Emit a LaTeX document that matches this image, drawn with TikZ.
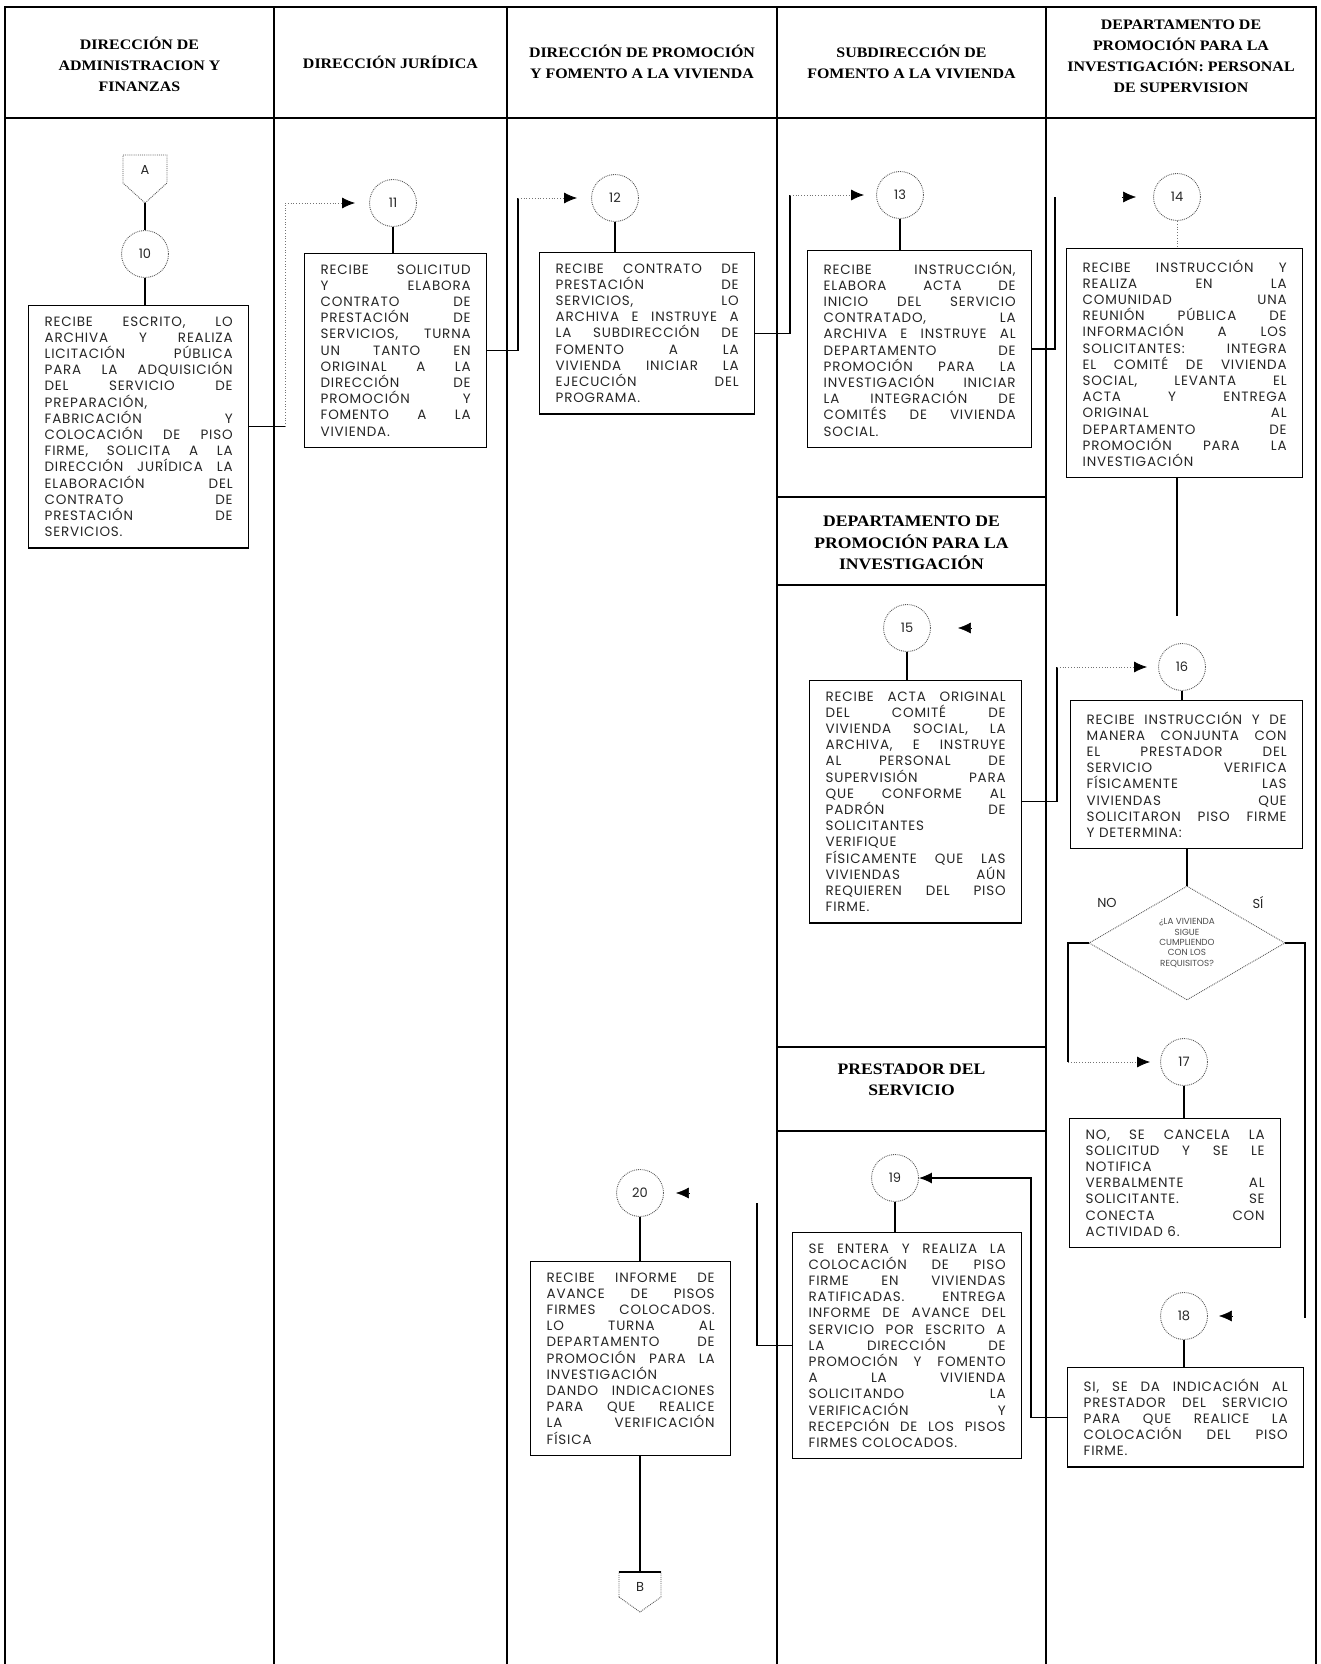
\documentclass[tikz,border=0pt]{standalone}
\usepackage{fontspec}
\usetikzlibrary{arrows.meta,shapes.geometric}
\setmainfont{Liberation Serif}
\newfontfamily\hfont{Liberation Serif}[FakeStretch=1.1]
\newfontfamily\bfont{Poppins}[LetterSpace=6]
\newfontfamily\nfont{Poppins}
\newlength{\tw}
\newcommand{\JLine}[1]{\leavevmode\hbox to \tw{\spaceskip=.28em plus 1fil\relax #1}\\}
\newcommand{\LLine}[1]{#1\\}
\tikzset{
 frame/.style={line width=1.4pt},
 hd/.style={align=center, font=\hfont\bfseries\fontsize{14.5}{21}\selectfont, inner sep=0pt},
 shd/.style={align=center, font=\hfont\bfseries\fontsize{16}{21.5}\selectfont, inner sep=0pt},
 box/.style={draw, line width=1.3pt, anchor=north west, inner xsep=16pt, inner ysep=11pt, text width=#1, execute at begin node={\setlength{\tw}{#1}}, align=left, text=black!85, font=\bfont\fontsize{13.5}{16.2}\selectfont},
 circ/.style={circle, draw=black!65, densely dotted, line width=0.9pt, minimum size=47pt, inner sep=0pt, text=black!85, font=\nfont\fontsize{13}{13}\selectfont},
 ln/.style={line width=1.1pt},
 faint/.style={draw=black!55, dotted, line width=0.8pt},
 arr/.style={-{Latex[length=13pt,width=11pt,color=black]}},
 lbl/.style={font=\nfont\fontsize{13}{13}\selectfont, text=black!85},
 conn/.style={densely dotted, draw=black!65, line width=0.9pt}
}
\begin{document}
\begin{tikzpicture}[x=1pt,y=-1pt]
\useasboundingbox (0,0) rectangle (1320,1664);
% frame
\draw[frame] (5,1664) -- (5,7) -- (1316,7) -- (1316,1664);
\draw[frame] (5,118) -- (1316,118);
\foreach \x in {274,507,777,1046} \draw[frame] (\x,7) -- (\x,1664);
\draw[frame] (777,497) -- (1046,497);
\draw[frame] (777,585) -- (1046,585);
\draw[frame] (777,1047) -- (1046,1047);
\draw[frame] (777,1131) -- (1046,1131);
% headers
\node[hd] (h1) at (139.5,64) {DIRECCIÓN DE\\ADMINISTRACION Y\\FINANZAS};
\node[hd] (h2) at (390.5,62) {DIRECCIÓN JURÍDICA};
\node[hd] (h3) at (642,62) {DIRECCIÓN DE PROMOCIÓN\\Y FOMENTO A LA VIVIENDA};
\node[hd] (h4) at (911.5,62) {SUBDIRECCIÓN DE\\FOMENTO A LA VIVIENDA};
\node[hd] (h5) at (1181,56) {DEPARTAMENTO DE\\PROMOCIÓN PARA LA\\INVESTIGACIÓN: PERSONAL\\DE SUPERVISION};
\node[shd] (s1) at (911.5,543) {DEPARTAMENTO DE\\PROMOCIÓN PARA LA\\INVESTIGACIÓN};
\node[shd] (s2) at (911.5,1080) {PRESTADOR DEL\\SERVICIO};
% off-page connector A
\node[lbl] (A) at (145,170) {A};
\draw[conn] (123,155) -- (167,155) -- (167,183) -- (145,203) -- (123,183) -- cycle;
\coordinate (Atip) at (145,203);
% circles
\node[circ] (c10) at (145,254) {10};
\node[circ] (c11) at (393,203) {11};
\node[circ] (c12) at (615,198) {12};
\node[circ] (c13) at (900,195) {13};
\node[circ] (c14) at (1177,197) {14};
\node[circ] (c15) at (907,628) {15};
\node[circ] (c16) at (1182,667) {16};
\node[circ] (c17) at (1184,1062) {17};
\node[circ] (c18) at (1184,1316) {18};
\node[circ] (c19) at (895,1178) {19};
\node[circ] (c20) at (640,1193) {20};
% boxes
\node[box=188pt] (b10) at (28,305) {%
\JLine{RECIBE ESCRITO, LO}%
\JLine{ARCHIVA Y REALIZA}%
\JLine{LICITACIÓN PÚBLICA}%
\JLine{PARA LA ADQUISICIÓN}%
\JLine{DEL SERVICIO DE}%
\LLine{PREPARACIÓN,}%
\JLine{FABRICACIÓN Y}%
\JLine{COLOCACIÓN DE PISO}%
\JLine{FIRME, SOLICITA A LA}%
\JLine{DIRECCIÓN JURÍDICA LA}%
\JLine{ELABORACIÓN DEL}%
\JLine{CONTRATO DE}%
\JLine{PRESTACIÓN DE}%
SERVICIOS.};
\node[box=150pt] (b11) at (304,253) {%
\JLine{RECIBE SOLICITUD}%
\JLine{Y ELABORA}%
\JLine{CONTRATO DE}%
\JLine{PRESTACIÓN DE}%
\JLine{SERVICIOS, TURNA}%
\JLine{UN TANTO EN}%
\JLine{ORIGINAL A LA}%
\JLine{DIRECCIÓN DE}%
\JLine{PROMOCIÓN Y}%
\JLine{FOMENTO A LA}%
VIVIENDA.};
\node[box=183pt] (b12) at (539,252) {%
\JLine{RECIBE CONTRATO DE}%
\JLine{PRESTACIÓN DE}%
\JLine{SERVICIOS, LO}%
\JLine{ARCHIVA E INSTRUYE A}%
\JLine{LA SUBDIRECCIÓN DE}%
\JLine{FOMENTO A LA}%
\JLine{VIVIENDA INICIAR LA}%
\JLine{EJECUCIÓN DEL}%
PROGRAMA.};
\node[box=192pt] (b13) at (807,250) {%
\JLine{RECIBE INSTRUCCIÓN,}%
\JLine{ELABORA ACTA DE}%
\JLine{INICIO DEL SERVICIO}%
\JLine{CONTRATADO, LA}%
\JLine{ARCHIVA E INSTRUYE AL}%
\JLine{DEPARTAMENTO DE}%
\JLine{PROMOCIÓN PARA LA}%
\JLine{INVESTIGACIÓN INICIAR}%
\JLine{LA INTEGRACIÓN DE}%
\JLine{COMITÉS DE VIVIENDA}%
SOCIAL.};
\node[box=204pt] (b14) at (1066,248) {%
\JLine{RECIBE INSTRUCCIÓN Y}%
\JLine{REALIZA EN LA}%
\JLine{COMUNIDAD UNA}%
\JLine{REUNIÓN PÚBLICA DE}%
\JLine{INFORMACIÓN A LOS}%
\JLine{SOLICITANTES: INTEGRA}%
\JLine{EL COMITÉ DE VIVIENDA}%
\JLine{SOCIAL, LEVANTA EL}%
\JLine{ACTA Y ENTREGA}%
\JLine{ORIGINAL AL}%
\JLine{DEPARTAMENTO DE}%
\JLine{PROMOCIÓN PARA LA}%
INVESTIGACIÓN};
\node[box=180pt] (b15) at (809,680) {%
\JLine{RECIBE ACTA ORIGINAL}%
\JLine{DEL COMITÉ DE}%
\JLine{VIVIENDA SOCIAL, LA}%
\JLine{ARCHIVA, E INSTRUYE}%
\JLine{AL PERSONAL DE}%
\JLine{SUPERVISIÓN PARA}%
\JLine{QUE CONFORME AL}%
\JLine{PADRÓN DE}%
\LLine{SOLICITANTES}%
\LLine{VERIFIQUE}%
\JLine{FÍSICAMENTE QUE LAS}%
\JLine{VIVIENDAS AÚN}%
\JLine{REQUIEREN DEL PISO}%
FIRME.};
\node[box=200pt] (b16) at (1070,700) {%
\JLine{RECIBE INSTRUCCIÓN Y DE}%
\JLine{MANERA CONJUNTA CON}%
\JLine{EL PRESTADOR DEL}%
\JLine{SERVICIO VERIFICA}%
\JLine{FÍSICAMENTE LAS}%
\JLine{VIVIENDAS QUE}%
\JLine{SOLICITARON PISO FIRME}%
Y DETERMINA:};
\node[box=179pt] (b17) at (1069,1118) {%
\JLine{NO, SE CANCELA LA}%
\JLine{SOLICITUD Y SE LE}%
\LLine{NOTIFICA}%
\JLine{VERBALMENTE AL}%
\JLine{SOLICITANTE. SE}%
\JLine{CONECTA CON}%
ACTIVIDAD 6.};
\node[box=204pt] (b18) at (1067,1367) {%
\JLine{SI, SE DA INDICACIÓN AL}%
\JLine{PRESTADOR DEL SERVICIO}%
\JLine{PARA QUE REALICE LA}%
\JLine{COLOCACIÓN DEL PISO}%
FIRME.};
\node[box=197pt] (b19) at (792,1232) {%
\JLine{SE ENTERA Y REALIZA LA}%
\JLine{COLOCACIÓN DE PISO}%
\JLine{FIRME EN VIVIENDAS}%
\JLine{RATIFICADAS. ENTREGA}%
\JLine{INFORME DE AVANCE DEL}%
\JLine{SERVICIO POR ESCRITO A}%
\JLine{LA DIRECCIÓN DE}%
\JLine{PROMOCIÓN Y FOMENTO}%
\JLine{A LA VIVIENDA}%
\JLine{SOLICITANDO LA}%
\JLine{VERIFICACIÓN Y}%
\JLine{RECEPCIÓN DE LOS PISOS}%
FIRMES COLOCADOS.};
\node[box=168pt] (b20) at (530,1261) {%
\JLine{RECIBE INFORME DE}%
\JLine{AVANCE DE PISOS}%
\JLine{FIRMES COLOCADOS.}%
\JLine{LO TURNA AL}%
\JLine{DEPARTAMENTO DE}%
\JLine{PROMOCIÓN PARA LA}%
\LLine{INVESTIGACIÓN}%
\JLine{DANDO INDICACIONES}%
\JLine{PARA QUE REALICE}%
\JLine{LA VERIFICACIÓN}%
FÍSICA};
% decision
\node[diamond, draw=black!65, densely dotted, line width=0.9pt, minimum width=196pt, minimum height=114pt, inner sep=0pt, align=center, text=black!70, font=\nfont\fontsize{8.8}{10.4}\selectfont] (d) at (1187,943) {¿LA VIVIENDA\\SIGUE\\CUMPLIENDO\\CON LOS\\REQUISITOS?};
\node[lbl] (no) at (1107,903) {NO};
\node[lbl] (si) at (1258,903) {SÍ};
% off-page connector B
\node[lbl] (B) at (640,1587) {B};
\draw[conn] (619,1597) -- (619,1572) -- (661,1572) -- (661,1597) -- (640,1612) -- cycle;
\draw[line width=2pt] (619,1572) -- (661,1572);
\coordinate (Btop) at (640,1572);
% connectors
\draw[ln] (Atip) -- (c10.north);
\draw[ln] (c10.south) -- (c10.south |- b10.north);
\coordinate (k1) at (285,203);
\draw[ln] (b10.east) -- (b10.east -| k1);
\draw[faint] (b10.east -| k1) -- (k1);
\draw[faint,arr] (k1) -- ([xshift=-14pt]c11.west);
\draw[ln] (c11.south) -- (c11.south |- b11.north);
\coordinate (k2) at (518,198);
\draw[ln] (b11.east) -| (k2);
\draw[faint,arr] (k2) -- ([xshift=-14pt]c12.west);
\draw[ln] (c12.south) -- (c12.south |- b12.north);
\coordinate (k3) at (790,195);
\draw[ln] (b12.east) -| (k3);
\draw[faint,arr] (k3) -- ([xshift=-12pt]c13.west);
\draw[ln] (c13.south) -- (c13.south |- b13.north);
\coordinate (k4) at (1055,197);
\draw[ln] (b13.east) -| (k4);
\draw[arr,line width=0.5pt] ([xshift=-31pt]c14.west) -- ([xshift=-17pt]c14.west);
\draw[faint] (c14.south) -- (c14.south |- b14.north);
\coordinate (k5) at (1177,616);
\draw[ln] (b14.south -| k5) -- (k5);
\draw[arr,line width=0.5pt] ([xshift=41pt]c15.east) -- ([xshift=27pt]c15.east);
\draw[ln] (c15.south) -- (c15.south |- b15.north);
\coordinate (k6) at (1057,667);
\draw[ln] (b15.east) -| (k6);
\draw[faint,arr] (k6) -- ([xshift=-11pt]c16.west);
\draw[ln] (c16.south) -- (c16.south |- b16.north);
\draw[ln] (d.north |- b16.south) -- (d.north);
\coordinate (k7) at (1068,1062);
\draw[ln] (d.west) -| (k7);
\draw[faint,arr] (k7) -- ([xshift=-10pt]c17.west);
\coordinate (k8) at (1305,1318);
\draw[ln] (d.east) -| (k8);
\draw[arr,line width=0.5pt] ([xshift=25pt]c18.east) -- ([xshift=11pt]c18.east);
\draw[ln] (c17.south) -- (c17.south |- b17.north);
\draw[ln] (c18.south) -- (c18.south |- b18.north);
\coordinate (k9) at (1031,1178);
\draw[ln,arr] (b18.west) -| (k9) -- (c19.east);
\draw[ln] (c19.south) -- (c19.south |- b19.north);
\coordinate (k10) at (757,1203);
\draw[ln] (b19.west) -| (k10);
\draw[arr,line width=0.5pt] ([xshift=26pt]c20.east) -- ([xshift=12pt]c20.east);
\draw[ln] (c20.south) -- (c20.south |- b20.north);
\draw[ln] (b20.south -| c20) -- (Btop);
\end{tikzpicture}
\end{document}
